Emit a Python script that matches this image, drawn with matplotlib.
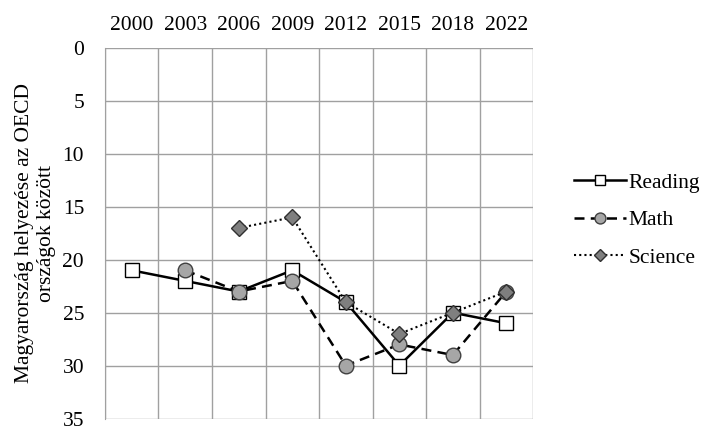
import numpy as np
import matplotlib.pyplot as plt

years = ["2000", "2003", "2006", "2009", "2012", "2015", "2018", "2022"]
reading = [21, 22, 23, 21, 24, 30, 25, 26]
math = [np.nan, 21, 23, 22, 30, 28, 29, 23]
science = [np.nan, np.nan, 17, 16, 24, 27, 25, 23]

plt.rcParams["font.family"] = ["Liberation Serif", "DejaVu Serif"]
plt.rcParams["font.size"] = 15.5

fig = plt.figure(figsize=(7.09, 4.28), dpi=100)
ax = fig.add_axes([0.148, 0.022, 0.604, 0.866])

x = np.arange(len(years))

# vonalak
ax.plot(x, reading, color="black", lw=1.8, ls="-", marker="s", ms=10.5,
        mfc="white", mec="black", mew=1.0, label="Reading", zorder=3)
ax.plot(x, math, color="black", lw=1.8, ls=(0, (4, 2.5)), marker="o", ms=10.5,
        mfc="#a6a6a6", mec="#404040", mew=1.0, label="Math", zorder=4)
ax.plot(x, science, color="black", lw=1.5, ls=(0, (1, 1.5)), marker="D", ms=8,
        mfc="#7f7f7f", mec="#303030", mew=1.0, label="Science", zorder=5)

ax.set_xlim(-0.5, len(years) - 0.5)
ax.set_ylim(35, 0)
ax.set_yticks(np.arange(0, 36, 5))
ax.set_xticks(x)
ax.set_xticklabels(years)
ax.set_xticks(np.arange(-0.5, len(years), 1), minor=True)
ax.xaxis.tick_top()
ax.tick_params(axis="x", which="both", length=0, pad=9)
ax.tick_params(axis="y", length=0, pad=15)

ax.grid(axis="x", which="minor", color="#a0a0a0", lw=1.0)
ax.grid(axis="y", which="major", color="#a0a0a0", lw=1.0)
for s in ax.spines.values():
    s.set_visible(False)
ax.spines["left"].set_visible(True)
ax.spines["left"].set_color("#a0a0a0")

ax.set_ylabel("Magyarország helyezése az OECD\nországok között", labelpad=5,
              linespacing=1.2)

ax.legend(loc="center left", bbox_to_anchor=(1.075, 0.535), frameon=False,
          handlelength=2.4, handletextpad=0.15, labelspacing=0.8, markerscale=0.75,
          borderaxespad=0)

fig.savefig("out.png", dpi=100)
